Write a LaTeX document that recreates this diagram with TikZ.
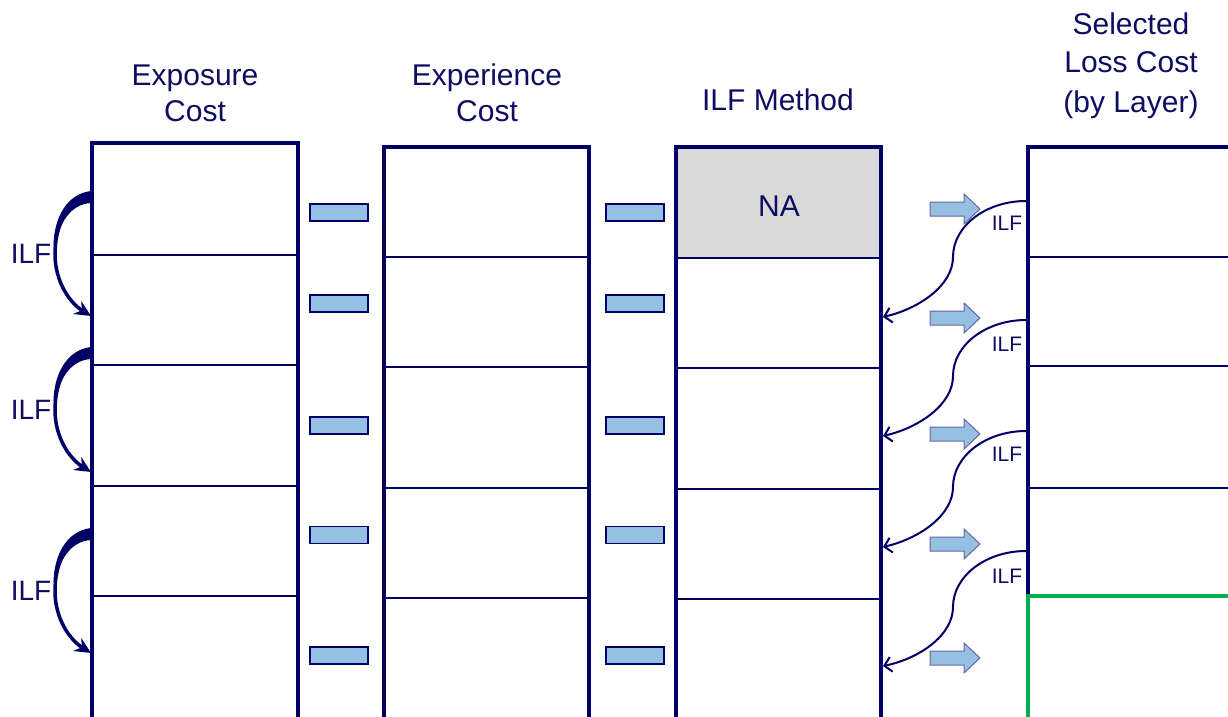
\documentclass[tikz,border=0pt]{standalone}
\usepackage{fontspec}
\setmainfont{Liberation Sans}
\usetikzlibrary{arrows.meta}
\definecolor{navy}{RGB}{0,0,102}
\definecolor{txt}{RGB}{14,14,96}
\definecolor{lblue}{RGB}{150,192,226}
\definecolor{nagray}{RGB}{217,217,217}
\definecolor{grn}{RGB}{0,176,80}
\newcommand{\mkcell}[6]{%
  \node[cellsty,#6,minimum width={(#3-#2)*1pt},minimum height={(#5-#4)*1pt}] (#1) at ({(#2+#3)/2},{(#4+#5)/2}) {};}
\begin{document}
\begin{tikzpicture}[x=1pt,y=-1pt,
  cellsty/.style={draw=navy,line width=1.5pt,inner sep=0pt,outer sep=0pt},
  outerbox/.style={draw=navy,line width=4.5pt},
  greenbox/.style={draw=grn,line width=4pt},
  ttl/.style={text=txt,font=\fontsize{30}{36}\selectfont,anchor=base,inner sep=0pt},
  ilfbig/.style={text=txt,font=\fontsize{28}{32}\selectfont,anchor=base,inner sep=0pt},
  ilfsmall/.style={text=txt,font=\fontsize{21}{24}\selectfont,anchor=base,inner sep=0pt},
  dashbox/.style={draw=navy,line width=1.5pt,fill=lblue,minimum width=58pt,minimum height=17pt,inner sep=0pt},
  blockarr/.style={draw=navy!60,line width=1pt,fill=lblue},
  ilfcurve/.style={draw=navy,line width=2pt,-{Straight Barb[length=7pt,width=15pt]}},
  bigcurve/.style={draw=navy,line width=3.5pt,-{Stealth[length=16pt,width=15pt]}},
  wedge/.style={fill=navy}]
\useasboundingbox (0,0) rectangle (1228,717);
\clip (0,0) rectangle (1228,717);
% column 1
\mkcell{e1}{92}{298}{143}{255}{}
\mkcell{e2}{92}{298}{255}{365}{}
\mkcell{e3}{92}{298}{365}{486}{}
\mkcell{e4}{92}{298}{486}{596}{}
\mkcell{e5}{92}{298}{596}{728}{}
\draw[outerbox] (e1.north west) rectangle (e5.south east);
% column 2
\mkcell{x1}{384}{589}{147}{257}{}
\mkcell{x2}{384}{589}{257}{367}{}
\mkcell{x3}{384}{589}{367}{488}{}
\mkcell{x4}{384}{589}{488}{598}{}
\mkcell{x5}{384}{589}{598}{728}{}
\draw[outerbox] (x1.north west) rectangle (x5.south east);
% column 3
\mkcell{m1}{676}{881}{147}{258}{fill=nagray}
\mkcell{m2}{676}{881}{258}{368}{}
\mkcell{m3}{676}{881}{368}{489}{}
\mkcell{m4}{676}{881}{489}{599}{}
\mkcell{m5}{676}{881}{599}{728}{}
\draw[outerbox] (m1.north west) rectangle (m5.south east);
\node[ttl] (na) at (779,216) {NA};
% column 4
\mkcell{s1}{1028}{1250}{147}{257}{}
\mkcell{s2}{1028}{1250}{257}{366}{}
\mkcell{s3}{1028}{1250}{366}{488}{}
\mkcell{s4}{1028}{1250}{488}{596}{}
\draw[outerbox] (s1.north west) rectangle (s4.south east);
\mkcell{s5}{1028}{1250}{596}{728}{draw=none}
\draw[greenbox] (s5.north east) -- (s5.north west) -- (s5.south west);
% titles
\node[ttl] (t1a) at (195,85) {Exposure};
\node[ttl] (t1b) at (195,121) {Cost};
\node[ttl] (t2a) at (487,85) {Experience};
\node[ttl] (t2b) at (487,121) {Cost};
\node[ttl] (t3) at (778,110) {ILF Method};
\node[ttl] (t4a) at (1131,35) {Selected};
\node[ttl] (t4b) at (1131,73) {Loss Cost};
\node[ttl] (t4c) at (1131,112) {(by Layer)};
% dash boxes
\foreach \yy [count=\i] in {212.5,303.5,425.5,535,655.5} {
  \node[dashbox] (da\i) at (339,\yy) {};
  \node[dashbox] (db\i) at (635,\yy) {};
}
% block arrows
\foreach \yy in {209,318,434,544,658} {
  \draw[blockarr] (930,\yy-7) -- (964,\yy-7) -- (964,\yy-15) -- (980,\yy) -- (964,\yy+15) -- (964,\yy+7) -- (930,\yy+7) -- cycle;
}
% right ILF curves
\foreach \ys/\ye/\yl [count=\i] in {201/317/230, 320/436/351, 431/547/461, 551/666/583} {
  \coordinate (rs\i) at (1026,\ys);
  \coordinate (re\i) at (883,\ye);
  \coordinate (rm\i) at (953,\ys+56);
  \draw[ilfcurve] (rs\i) .. controls (986,\ys) and (953,\ys+25) .. (rm\i)
     .. controls (953,\ys+85) and (918,\ys+108) .. (re\i);
  \node[ilfsmall] (rl\i) at (1007,\yl) {ILF};
}
% left ILF curves
\foreach \ys/\yl [count=\i] in {197/263, 353/419, 534/600} {
  \coordinate (ls\i) at (91,\ys);
  \coordinate (le\i) at (91,\ys+119);
  \coordinate (lm\i) at (55,\ys+57);
  \fill[wedge] (91,\ys-6) .. controls (66,\ys-3) and (54,\ys+22) .. (53.5,\ys+48)
     -- (56.5,\ys+48) .. controls (58,\ys+28) and (70,\ys+7) .. (91,\ys+6) -- cycle;
  \draw[bigcurve] (ls\i) .. controls (64,\ys+4) and (55,\ys+33) .. (lm\i)
     .. controls (55,\ys+85) and (70,\ys+106) .. (le\i);
  \node[ilfbig] (ll\i) at (31,\yl) {ILF};
}
\end{tikzpicture}
\end{document}
